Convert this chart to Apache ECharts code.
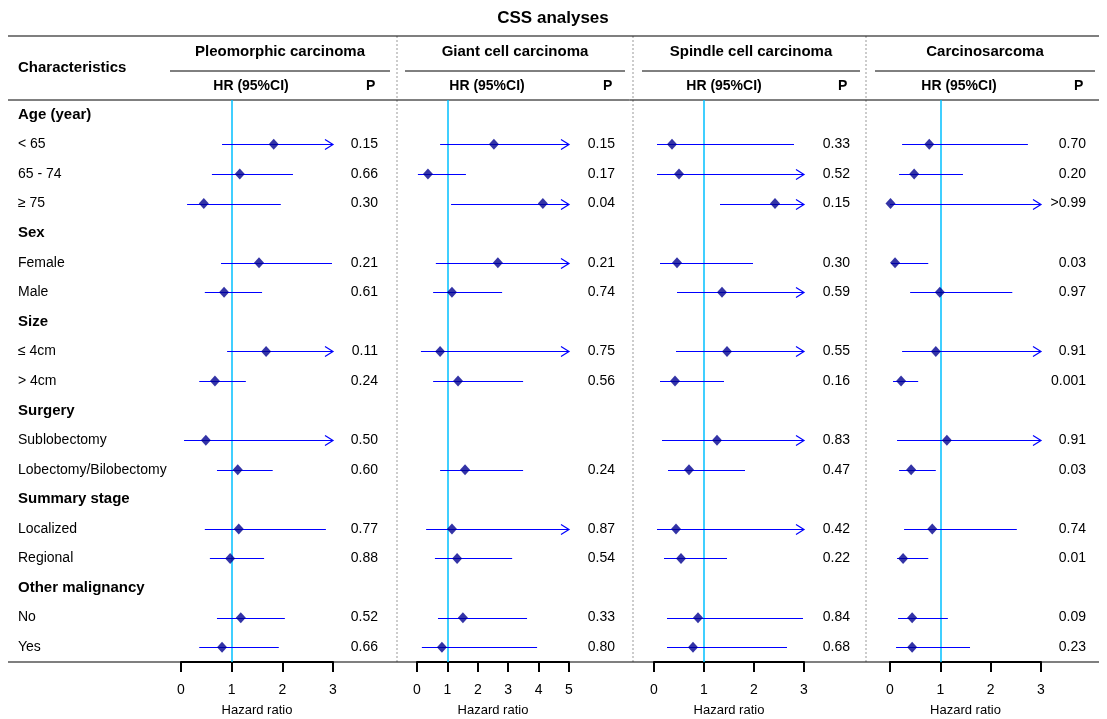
<!DOCTYPE html>
<html>
<head>
<meta charset="utf-8">
<script src="https://cdn.jsdelivr.net/npm/echarts@6/dist/echarts.min.js"></script>
<style>html,body{margin:0;padding:0;background:#fff}#chart{width:1107px;height:719px}</style>
</head>
<body>
<div id="chart"></div>
<script>
// row labels (bold = group header)
var rowLabels = ['Age (year)', '< 65', '65 - 74', '≥ 75', 'Sex', 'Female', 'Male', 'Size', '≤ 4cm', '> 4cm',
	'Surgery', 'Sublobectomy', 'Lobectomy/Bilobectomy', 'Summary stage', 'Localized', 'Regional',
	'Other malignancy', 'No', 'Yes'];
var headerRows = [0, 4, 7, 10, 13, 16];
var panelTitles = ['Pleomorphic carcinoma', 'Giant cell carcinoma', 'Spindle cell carcinoma', 'Carcinosarcoma'];
var axisMax = [3, 5, 3, 3];

// [row, lower, HR, upper] ; upper null = arrow beyond axis
var pleoData = [[1, 0.81, 1.83, null], [2, 0.61, 1.16, 2.21], [3, 0.12, 0.45, 1.97], [5, 0.79, 1.54, 2.98],
	[6, 0.47, 0.85, 1.60], [8, 0.91, 1.68, null], [9, 0.36, 0.67, 1.28], [11, 0.06, 0.49, null],
	[12, 0.71, 1.12, 1.81], [14, 0.47, 1.14, 2.86], [15, 0.57, 0.97, 1.64], [17, 0.71, 1.18, 2.05], [18, 0.36, 0.81, 1.93]];
var giantData = [[1, 0.76, 2.53, null], [2, 0.03, 0.36, 1.61], [3, 1.12, 4.14, null], [5, 0.62, 2.66, null],
	[6, 0.53, 1.15, 2.80], [8, 0.13, 0.76, null], [9, 0.53, 1.35, 3.49],
	[12, 0.76, 1.58, 3.49], [14, 0.30, 1.15, null], [15, 0.59, 1.32, 3.13], [17, 0.69, 1.51, 3.62], [18, 0.16, 0.82, 3.95]];
var spindleData = [[1, 0.06, 0.36, 2.80], [2, 0.06, 0.50, null], [3, 1.32, 2.42, null], [5, 0.12, 0.46, 1.98],
	[6, 0.46, 1.36, null], [8, 0.44, 1.46, null], [9, 0.12, 0.42, 1.40], [11, 0.16, 1.26, null],
	[12, 0.28, 0.70, 1.82], [14, 0.06, 0.44, null], [15, 0.20, 0.54, 1.46], [17, 0.26, 0.88, 2.98], [18, 0.26, 0.78, 2.66]];
var carcinoData = [[1, 0.24, 0.78, 2.74], [2, 0.18, 0.48, 1.45], [3, 0.00, 0.01, null], [5, 0.02, 0.10, 0.76],
	[6, 0.40, 0.99, 2.43], [8, 0.24, 0.91, null], [9, 0.06, 0.22, 0.56], [11, 0.14, 1.13, null],
	[12, 0.18, 0.42, 0.91], [14, 0.28, 0.84, 2.52], [15, 0.14, 0.26, 0.76], [17, 0.16, 0.44, 1.15], [18, 0.12, 0.44, 1.59]];
var pleoP = ['', '0.15', '0.66', '0.30', '', '0.21', '0.61', '', '0.11', '0.24', '', '0.50', '0.60', '', '0.77', '0.88', '', '0.52', '0.66'];
var giantP = ['', '0.15', '0.17', '0.04', '', '0.21', '0.74', '', '0.75', '0.56', '', '', '0.24', '', '0.87', '0.54', '', '0.33', '0.80'];
var spindleP = ['', '0.33', '0.52', '0.15', '', '0.30', '0.59', '', '0.55', '0.16', '', '0.83', '0.47', '', '0.42', '0.22', '', '0.84', '0.68'];
var carcinoP = ['', '0.70', '0.20', '>0.99', '', '0.03', '0.97', '', '0.91', '0.001', '', '0.91', '0.03', '', '0.74', '0.01', '', '0.09', '0.23'];

var panelData = [pleoData, giantData, spindleData, carcinoData];
var panelP = [pleoP, giantP, spindleP, carcinoP];

var gridLeft = [181, 417, 654, 890];
var gridWidth = [152, 152, 150, 151];
var pX = [370, 607, 842, 1078];
var hrX = [251, 487, 724, 959];
var hdrLine = [[170, 390], [405, 625], [642, 860], [875, 1095]];
var sepX = [397, 633, 866];
var gridTop = 100, gridBottom = 662;
var rowH = (gridBottom - gridTop) / rowLabels.length;
var font = '"Liberation Sans", Arial, sans-serif';

var grids = [], xAxes = [], yAxes = [], series = [], graphics = [];

function hline(x1, x2, y, w) {
	graphics.push({ type: 'line', shape: { x1: x1, y1: y, x2: x2, y2: y }, style: { stroke: '#000', lineWidth: w } });
}
function txt(x, y, s, opt) {
	graphics.push({ type: 'text', x: x, y: y, style: Object.assign({ text: s, font: '14px ' + font, fill: '#000', textAlign: 'left', textVerticalAlign: 'middle' }, opt || {}) });
}

panelData.forEach(function(d, i) {
	grids.push({ left: gridLeft[i], width: gridWidth[i], top: gridTop, bottom: 719 - gridBottom, containLabel: false, outerBoundsMode: 'none' });
	xAxes.push({
		gridIndex: i, type: 'value', min: 0, max: axisMax[i], interval: 1, position: 'bottom',
		name: 'Hazard ratio', nameLocation: 'middle', nameGap: 42,
		nameTextStyle: { fontSize: 13, color: '#000', fontFamily: font },
		axisLine: { show: true, onZero: false, lineStyle: { color: '#000', width: 2 } },
		axisTick: { show: true, inside: false, length: 10, lineStyle: { color: '#000', width: 2 } },
		axisLabel: { fontSize: 14, color: '#000', fontFamily: font, margin: 21 },
		splitLine: { show: false }
	});
	yAxes.push({ gridIndex: i, type: 'category', inverse: true, data: rowLabels.map(function(r, k) { return k; }), show: false });
	var ciRows = d.map(function(r) { return [r[0], r[1], r[3] === null ? axisMax[i] : r[3], r[3] === null ? 1 : 0]; });
	series.push({
		type: 'custom', xAxisIndex: i, yAxisIndex: i, data: ciRows, encode: { x: [1, 2], y: 0 },
		renderItem: function(params, api) {
			var a = api.coord([api.value(1), api.value(0)]);
			var b = api.coord([api.value(2), api.value(0)]);
			var y = Math.round(a[1]) + 0.5;
			var kids = [{ type: 'line', shape: { x1: a[0], y1: y, x2: b[0], y2: y }, style: { stroke: '#0000ff', lineWidth: 1 } }];
			if (api.value(3) === 1) {
				kids.push({ type: 'polyline', shape: { points: [[b[0] - 8, y - 5], [b[0], y], [b[0] - 8, y + 5]] }, style: { stroke: '#0000ff', lineWidth: 1.2, fill: null } });
			}
			return { type: 'group', children: kids };
		},
		z: 2
	});
	series.push({
		type: 'scatter', xAxisIndex: i, yAxisIndex: i, symbol: 'diamond', symbolSize: [10, 11],
		itemStyle: { color: '#000090' }, z: 3,
		data: d.map(function(r) { return [r[2], r[0]]; }),
		markLine: { silent: true, symbol: 'none', label: { show: false }, lineStyle: { color: '#00bfff', type: 'solid', width: 1.5 }, data: [{ xAxis: 1 }], z: 1 }
	});

	// headers
	txt(hdrLine[i][0] + (hdrLine[i][1] - hdrLine[i][0]) / 2, 52, panelTitles[i], { font: 'bold 15px ' + font, textAlign: 'center' });
	hline(hdrLine[i][0], hdrLine[i][1], 71, 1);
	txt(hrX[i], 86, 'HR (95%CI)', { font: 'bold 14px ' + font, textAlign: 'center' });
	txt(pX[i] - 4, 86, 'P', { font: 'bold 14px ' + font, textAlign: 'left' });
	panelP[i].forEach(function(p, k) {
		if (p) txt(pX[i] + 8, gridTop + rowH * (k + 0.5), p, { textAlign: 'right' });
	});
});

sepX.forEach(function(x) {
	graphics.push({ type: 'line', shape: { x1: x, y1: 36, x2: x, y2: gridBottom }, style: { stroke: '#999', lineWidth: 1, lineDash: [2, 2] } });
});
hline(8, 1099, 36, 1.2);
hline(8, 1099, gridBottom, 1.2);
hline(160, 1099, 100, 1);
hline(8, 160, 100, 1);
txt(553, 18, 'CSS analyses', { font: 'bold 17px ' + font, textAlign: 'center' });
txt(18, 68, 'Characteristics', { font: 'bold 15px ' + font });
rowLabels.forEach(function(l, k) {
	var bold = headerRows.indexOf(k) >= 0;
	txt(18, gridTop + rowH * (k + 0.5), l, { font: (bold ? 'bold 15px ' : '14px ') + font });
});

var chart = echarts.init(document.getElementById('chart'));
chart.setOption({
	animation: false,
	grid: grids, xAxis: xAxes, yAxis: yAxes, series: series,
	graphic: graphics
});
</script>
</body>
</html>
